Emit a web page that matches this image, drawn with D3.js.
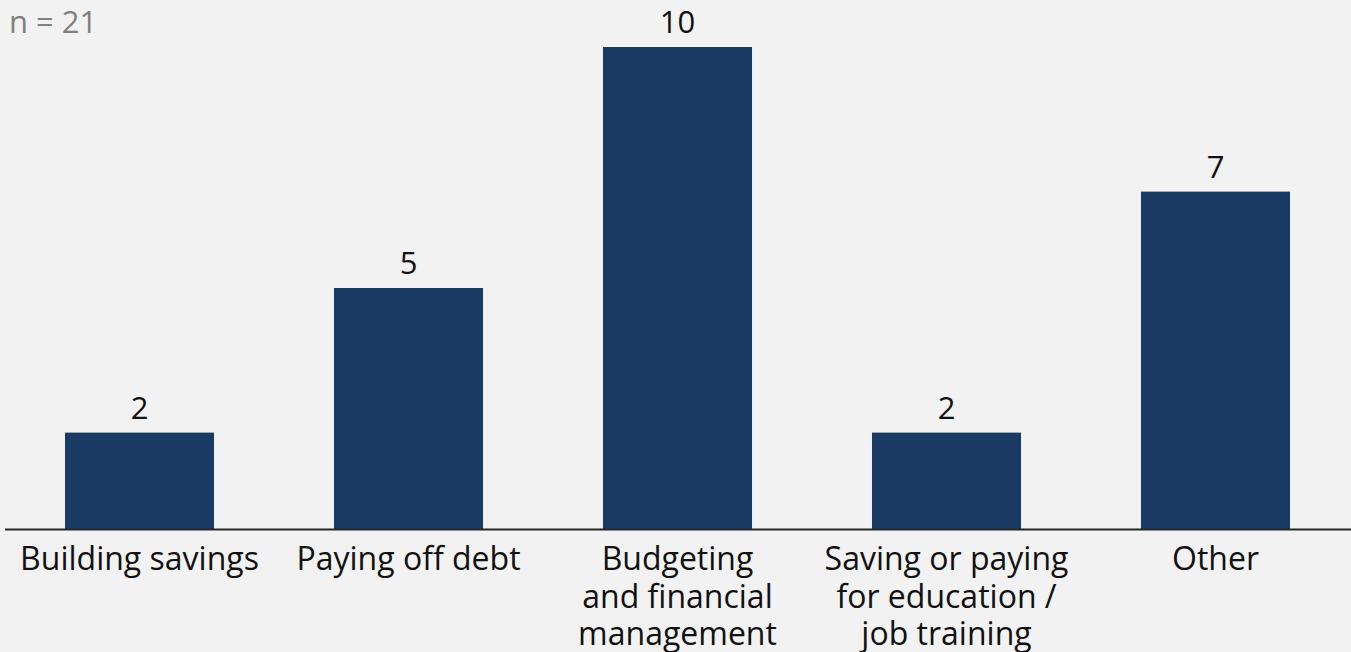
<!DOCTYPE html>
<html>
<head>
<meta charset="utf-8">
<script src="https://cdn.jsdelivr.net/npm/d3@7"></script>
<style>
  body { margin: 0; background: #f2f2f2; }
  svg { display: block; font-family: "Open Sans", "Noto Sans", sans-serif; }
</style>
</head>
<body>
<svg class="chart"></svg>
<script>
// chart data
var categories = [
	["Building savings"],
	["Paying off debt"],
	["Budgeting", "and financial", "management"],
	["Saving or paying", "for education /", "job training"],
	["Other"]
];
var counts = [2, 5, 10, 2, 7];
var sampleNote = "n = 21";

var width = 1351,
	height = 652,
	baseY = 529,
	topY = 47;

var svg = d3.select(".chart")
	.attr("width", width)
	.attr("height", height);

svg.append("rect")
	.attr("width", width)
	.attr("height", height)
	.attr("fill", "#f2f2f2");

var x = d3.scaleBand()
	.domain(d3.range(categories.length))
	.range([5, 1350])
	.paddingInner(0.446)
	.paddingOuter(0.223);

var y = d3.scaleLinear()
	.domain([0, 10])
	.range([baseY, topY]);

// bars
svg.selectAll(".bar")
	.data(counts)
  .enter().append("rect")
	.attr("class", "bar")
	.attr("x", function(d, i) { return x(i); })
	.attr("y", function(d) { return y(d); })
	.attr("width", x.bandwidth())
	.attr("height", function(d) { return baseY - y(d); })
	.attr("fill", "#1a3c64");

// value labels
svg.selectAll(".val")
	.data(counts)
  .enter().append("text")
	.attr("class", "val")
	.attr("x", function(d, i) { return x(i) + x.bandwidth() / 2; })
	.attr("y", function(d) { return y(d) - 14; })
	.attr("text-anchor", "middle")
	.attr("font-size", 31)
	.attr("fill", "#111")
	.text(function(d) { return d; });

// x axis
var xAxis = d3.axisBottom(x).tickSize(0).tickFormat("");
var gx = svg.append("g")
	.attr("transform", "translate(0," + baseY + ")")
	.call(xAxis);
gx.select(".domain")
	.attr("d", "M5,0.5H1351")
	.attr("stroke", "#262626")
	.attr("stroke-width", 2);

// category labels
var lab = svg.selectAll(".cat")
	.data(categories)
  .enter().append("text")
	.attr("class", "cat")
	.attr("text-anchor", "middle")
	.attr("font-size", 32)
	.attr("fill", "#111");
lab.selectAll("tspan")
	.data(function(d, i) { return d.map(function(t) { return {t: t, i: i}; }); })
  .enter().append("tspan")
	.attr("x", function(d) { return x(d.i) + x.bandwidth() / 2; })
	.attr("y", function(d, j) { return 570 + j * 37.5; })
	.text(function(d) { return d.t; });

// sample size note
svg.append("text")
	.attr("x", 9)
	.attr("y", 33)
	.attr("font-size", 31)
	.attr("fill", "#808080")
	.text(sampleNote);
</script>
</body>
</html>
